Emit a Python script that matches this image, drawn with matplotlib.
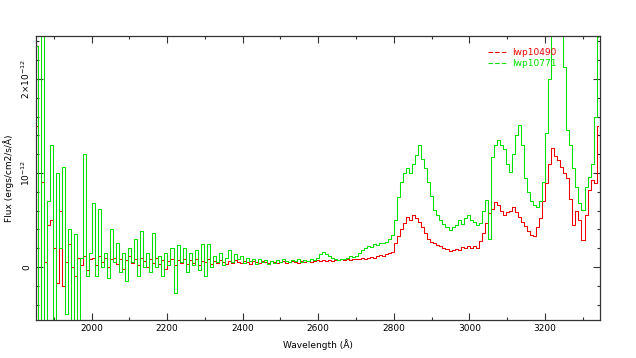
import numpy as np
import matplotlib
matplotlib.use("Agg")
import matplotlib.pyplot as plt
from matplotlib.lines import Line2D
from matplotlib.ticker import MultipleLocator, FixedLocator, FixedFormatter

# Wavelength grid (Angstrom), 8 A bins
wavelength = np.arange(1853, 3346, 8)

# Flux in units of 1e-12 erg/cm2/s/A
flux_lwp10490 = [
    1.5, -0.6, 0.9, 0.05, 0.45, 0.5, 0.2, -0.17, 0.6, -0.2,
    0.05, 0.24, 0.0, -0.1, 0.1, 0.02, 0.12, -0.03, 0.08, 0.1,
    0.02, 0.12, 0.05, 0.1, 0.0, 0.08, 0.1, 0.03, 0.09, -0.02,
    0.07, 0.12, 0.04, 0.08, 0.02, 0.1, 0.06, 0.0, 0.08, 0.04,
    0.1, 0.03, 0.07, -0.02, 0.06, 0.09, 0.02, 0.07, 0.04, 0.09,
    0.03, 0.07, 0.04, 0.08, 0.02, 0.06, 0.05, 0.08, 0.03, 0.06,
    0.04, 0.07, 0.05, 0.03, 0.06, 0.04, 0.07, 0.05, 0.04, 0.06,
    0.05, 0.03, 0.06, 0.05, 0.04, 0.06, 0.05, 0.04, 0.06, 0.05,
    0.04, 0.05, 0.06, 0.04, 0.05, 0.06, 0.05, 0.04, 0.06, 0.05,
    0.06, 0.05, 0.06, 0.07, 0.06, 0.07, 0.06, 0.07, 0.06, 0.07,
    0.07, 0.08, 0.07, 0.08, 0.07, 0.08, 0.08, 0.09, 0.1, 0.09,
    0.1, 0.11, 0.1, 0.12, 0.13, 0.12, 0.14, 0.15, 0.16, 0.25,
    0.33, 0.4, 0.47, 0.53, 0.5, 0.55, 0.52, 0.48, 0.43, 0.36,
    0.3, 0.27, 0.25, 0.23, 0.22, 0.2, 0.19, 0.17, 0.18, 0.19,
    0.18, 0.21, 0.2, 0.22, 0.2, 0.22, 0.2, 0.28, 0.36, 0.47,
    0.57, 0.62, 0.69, 0.66, 0.6, 0.55, 0.58, 0.6, 0.64, 0.58,
    0.53, 0.48, 0.44, 0.38, 0.34, 0.33, 0.42, 0.52, 0.7, 0.89,
    1.1, 1.27, 1.18, 1.14, 1.06, 1.0, 0.95, 0.72, 0.45, 0.6,
    0.5, 0.29, 0.55, 0.82, 0.93, 0.89, 1.5,
]

flux_lwp10771 = [
    2.35, -0.7, 3.0, -0.7, 0.7, 1.3, -0.7, 1.0, 0.2, 1.06,
    -0.5, 0.4, -0.7, 0.35, -0.7, 0.1, 1.2, -0.1, 0.15, 0.68,
    -0.1, 0.62, 0.0, 0.15, -0.12, 0.4, 0.05, 0.25, -0.05, 0.15,
    -0.15, 0.2, 0.05, 0.3, -0.1, 0.38, 0.0, 0.15, -0.05, 0.36,
    0.0, 0.12, -0.1, 0.15, 0.02, 0.2, -0.28, 0.23, 0.05, 0.2,
    -0.05, 0.15, 0.02, 0.18, -0.03, 0.24, -0.1, 0.24, 0.0, 0.12,
    0.05, 0.15, 0.02, 0.1, 0.18, 0.05, 0.14, 0.08, 0.12, 0.04,
    0.1, 0.06, 0.09, 0.03, 0.08, 0.05, 0.07, 0.03, 0.06, 0.04,
    0.07, 0.05, 0.08, 0.06, 0.05, 0.07, 0.06, 0.08, 0.05, 0.07,
    0.06, 0.08, 0.07, 0.1, 0.14, 0.16, 0.14, 0.12, 0.1, 0.08,
    0.07, 0.08, 0.09, 0.1, 0.12, 0.11, 0.12, 0.15, 0.18, 0.2,
    0.22, 0.21, 0.24, 0.23, 0.26, 0.25, 0.27, 0.3, 0.34, 0.5,
    0.74, 0.9, 1.0, 1.05, 1.0, 1.1, 1.19, 1.3, 1.15, 1.05,
    0.9, 0.75, 0.61, 0.55, 0.5, 0.46, 0.42, 0.39, 0.43, 0.45,
    0.5, 0.46, 0.52, 0.55, 0.5, 0.48, 0.45, 0.47, 0.6, 0.71,
    0.3, 1.17, 1.3, 1.35, 1.3, 1.25, 1.1, 1.01, 1.2, 1.4,
    1.51, 1.3, 0.95, 0.8, 0.7, 0.66, 0.64, 0.7, 0.9, 1.43,
    2.0, 2.7, 2.8, 2.7, 2.6, 2.13, 1.46, 1.3, 1.05, 0.85,
    0.68, 0.61, 0.85, 0.96, 1.1, 1.6, 2.45,
]

labels = ["lwp10490", "lwp10771"]
colors = ["#ee0000", "#00e000"]
yticks = [0.0, 1e-12, 2e-12]
ytick_labels = ["0", r"$10^{-12}$", r"$2\!\times\!10^{-12}$"]
scale = 1e-12

fig = plt.figure(figsize=(6.36, 3.58), dpi=100)
ax = fig.add_axes([36 / 636, 1 - 320 / 358, 564 / 636, 284 / 358])

ax.step(wavelength, np.array(flux_lwp10490) * scale, where="mid",
        color=colors[0], lw=0.75)
ax.step(wavelength, np.array(flux_lwp10771) * scale, where="mid",
        color=colors[1], lw=0.75)

ax.set_xlim(1853, 3346)
ax.set_ylim(-0.564e-12, 2.457e-12)

ax.xaxis.set_major_locator(MultipleLocator(200))
ax.xaxis.set_minor_locator(MultipleLocator(100))
ax.yaxis.set_major_locator(FixedLocator(yticks))
ax.yaxis.set_major_formatter(FixedFormatter(ytick_labels))
ax.yaxis.set_minor_locator(MultipleLocator(0.2e-12))

ax.tick_params(which="both", direction="in", top=True, right=True,
               color="#333333", width=0.8, labelsize=6.5, pad=3)
ax.tick_params(which="major", length=5)
ax.tick_params(which="minor", length=2.5)
for lab in ax.get_yticklabels():
    lab.set_rotation(90)
    lab.set_va("center")
for sp in ax.spines.values():
    sp.set_color("#333333")
    sp.set_linewidth(0.9)

ax.set_xlabel("Wavelength (Å)", fontsize=6.5, labelpad=4)
ax.set_ylabel("Flux (ergs/cm2/s/Å)", fontsize=6.5, labelpad=4)

handles = [Line2D([], [], color=c, lw=0.8, ls=(0, (4, 2))) for c in colors]
leg = ax.legend(handles, labels, loc="upper left",
                bbox_to_anchor=(0.795, 0.97), frameon=False, fontsize=6.5,
                handlelength=2.2, handletextpad=0.5, labelspacing=0.2,
                borderaxespad=0)
for t, c in zip(leg.get_texts(), colors):
    t.set_color(c)

fig.savefig("out.png", dpi=100)
